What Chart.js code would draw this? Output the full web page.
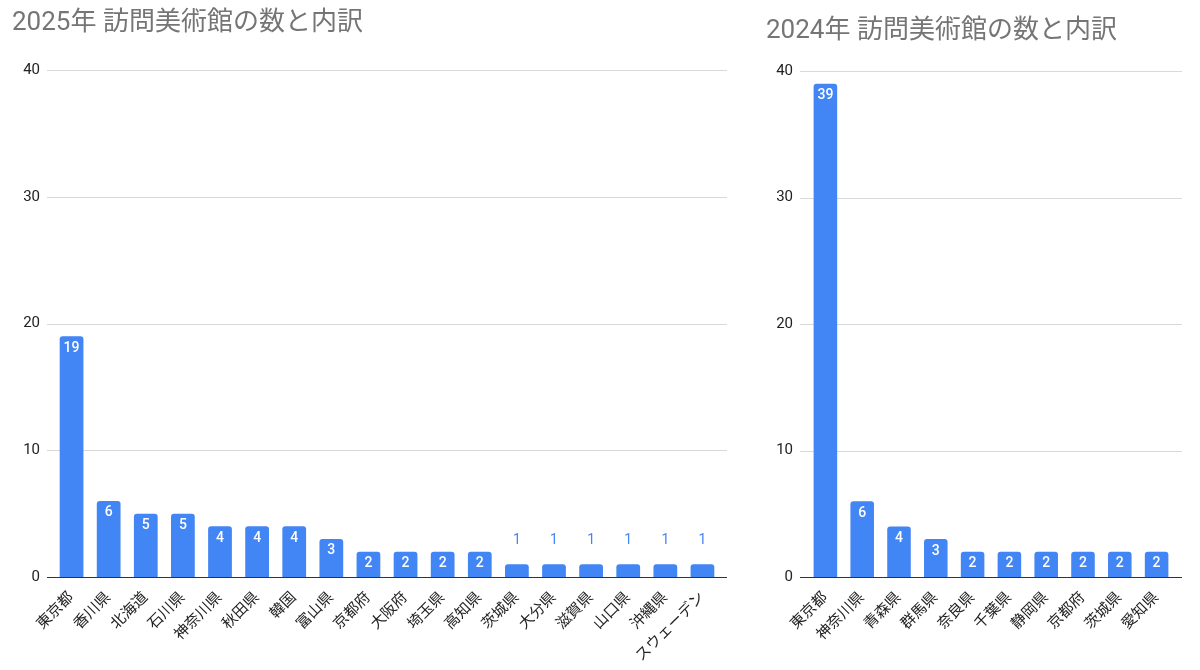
<!DOCTYPE html>
<html>
<head>
<meta charset="utf-8">
<script src="https://cdn.jsdelivr.net/npm/chart.js@4"></script>
<style>
body{margin:0;background:#fff;width:1200px;height:670px;overflow:hidden}
.box{position:absolute;top:0;height:670px}
#b1{left:0;width:740px}
#b2{left:755px;width:445px}
</style>
</head>
<body>
<div class="box" id="b1"><canvas id="c2025"></canvas></div>
<div class="box" id="b2"><canvas id="c2024"></canvas></div>
<script>
// 2025
const labels2025 = ["東京都","香川県","北海道","石川県","神奈川県","秋田県","韓国","富山県","京都府","大阪府","埼玉県","高知県","茨城県","大分県","滋賀県","山口県","沖縄県","スウェーデン"]
const values2025 = [19,6,5,5,4,4,4,3,2,2,2,2,1,1,1,1,1,1]
// 2024
const labels2024 = ["東京都","神奈川県","青森県","群馬県","奈良県","千葉県","静岡県","京都府","茨城県","愛知県"]
const values2024 = [39,6,4,3,2,2,2,2,2,2]
const yTicks = [0,10,20,30,40]

const BLUE = "#4285F4"
const FONT = "Roboto, 'Noto Sans CJK JP', sans-serif"

// horizontal grid lines, a bit wider than the bar area
const wideGrid = {
    id: "wideGrid",
    beforeDatasetsDraw(chart, args, opts){
        const ctx = chart.ctx
        const area = chart.chartArea
        const y = chart.scales.y
        const ext = opts.ext || 0
        y.ticks.forEach(t => {
            const py = Math.round(y.getPixelForValue(t.value)) + 0.5
            ctx.save()
            ctx.strokeStyle = t.value === 0 ? "#333" : "#d9d9d9"
            ctx.lineWidth = 1
            ctx.beginPath()
            ctx.moveTo(area.left - ext, py)
            ctx.lineTo(area.right + ext, py)
            ctx.stroke()
            ctx.restore()
        })
    }
}

// draws the numbers on top of the bars
const valueLabels = {
    id: "valueLabels",
    afterDatasetsDraw(chart){
        const ctx = chart.ctx
        const vals = chart.data.datasets[0].data
        chart.getDatasetMeta(0).data.forEach((bar, i) => {
            const h = bar.base - bar.y
            ctx.save()
            ctx.textAlign = "center"
            ctx.textBaseline = "middle"
            if (h > 22) {
                ctx.font = "500 14px " + FONT
                ctx.fillStyle = "#fff"
                ctx.fillText(vals[i], bar.x, bar.y + 12)
            } else {
                ctx.font = "14px " + FONT
                ctx.fillStyle = BLUE
                ctx.fillText(vals[i], bar.x, bar.y - 24)
            }
            ctx.restore()
        })
    }
}

const makeChart = (id, title, labels, values, o) => {
    new Chart(document.getElementById(id), {
        type: "bar",
        data: {
            labels: labels,
            datasets: [{
                data: values,
                backgroundColor: BLUE,
                borderRadius: 3,
                borderSkipped: "start",
                categoryPercentage: 1,
                barPercentage: 0.64
            }]
        },
        options: {
            animation: false,
            responsive: true,
            maintainAspectRatio: false,
            layout: {padding: {left: o.padLeft, right: o.padRight, top: 0, bottom: 0}},
            plugins: {
                legend: {display: false},
                tooltip: {enabled: false},
                wideGrid: {ext: o.ext},
                title: {
                    display: true,
                    text: title,
                    align: "start",
                    color: "#757575",
                    font: {family: FONT, size: 26, weight: "normal"},
                    padding: {top: o.titleTop, bottom: o.titleBottom}
                }
            },
            scales: {
                x: {
                    grid: {display: false},
                    border: {display: false},
                    ticks: {
                        color: "#222",
                        font: {family: FONT, size: 15},
                        minRotation: 45,
                        maxRotation: 45,
                        autoSkip: false,
                        padding: 4
                    },
                    afterFit: s => { s.height = 93 }
                },
                y: {
                    min: 0,
                    max: 40,
                    afterBuildTicks: s => { s.ticks = yTicks.map(v => ({value: v})) },
                    border: {display: false},
                    grid: {display: false, drawTicks: false},
                    ticks: {
                        color: "#222",
                        font: {family: FONT, size: 15},
                        padding: 7 + o.ext
                    },
                    afterFit: s => { s.width = o.yWidth + o.ext }
                }
            }
        },
        plugins: [wideGrid, valueLabels]
    })
}

makeChart("c2025", "2025年 訪問美術館の数と内訳", labels2025, values2025,
    {padLeft: 12, padRight: 19, titleTop: 8, titleBottom: 31, yWidth: 35, ext: 6})
makeChart("c2024", "2024年 訪問美術館の数と内訳", labels2024, values2024,
    {padLeft: 11, padRight: 25, titleTop: 16, titleBottom: 24, yWidth: 34, ext: 7})
</script>
</body>
</html>
